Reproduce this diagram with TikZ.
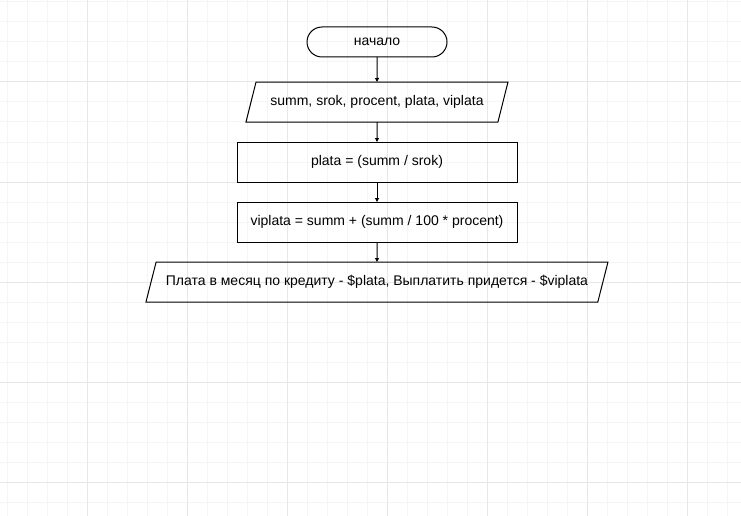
\documentclass[tikz,border=0pt]{standalone}
\usepackage{fontspec}
\setmainfont{Liberation Sans}
\usetikzlibrary{arrows.meta,shapes.geometric,positioning}
\definecolor{gridminor}{RGB}{245,245,245}
\definecolor{gridmajor}{RGB}{231,231,231}

\begin{document}
\begin{tikzpicture}[x=1pt,y=-1pt,
    every node/.style={font=\fontsize{14}{16}\selectfont, outer sep=0pt, line width=1pt},
    term/.style={draw, rectangle, rounded corners=15pt, minimum width=140pt, minimum height=30pt},
    io/.style={draw, trapezium, trapezium left angle=63, trapezium right angle=117,
               trapezium stretches body, minimum height=40pt},
    proc/.style={draw, rectangle, minimum width=280pt, minimum height=40pt},
    flow/.style={line width=1pt, -{Triangle[length=4pt,width=4pt]}}]
    \useasboundingbox (0,0) rectangle (741,516);
    % grid
    \foreach \gx in {7,27,...,727}
        \draw [gridminor, line width=1pt] (\gx,0) -- (\gx,516);
    \foreach \gy in {2,22,...,502}
        \draw [gridminor, line width=1pt] (0,\gy) -- (741,\gy);
    \foreach \gx in {87,187,...,687}
        \draw [gridmajor, line width=1pt] (\gx,0) -- (\gx,516);
    \foreach \gy in {82,182,...,482}
        \draw [gridmajor, line width=1pt] (0,\gy) -- (741,\gy);
    % blocks
    \node [term] (start) at (377,42) {начало};
    \node [io, minimum width=262pt, below=25pt of start] (input) {summ, srok, procent, plata, viplata};
    \node [proc, below=20pt of input] (plata) {plata = (summ / srok)};
    \node [proc, below=20pt of plata] (viplata) {viplata = summ + (summ / 100 * procent)};
    \node [io, minimum width=462pt, below=20pt of viplata] (output)
        {Плата в месяц по кредиту - \$plata, Выплатить придется - \$viplata};
    % arrows
    \draw [flow] (start) -- (input);
    \draw [flow] (input) -- (plata);
    \draw [flow] (plata) -- (viplata);
    \draw [flow] (viplata) -- (output);
\end{tikzpicture}
\end{document}
